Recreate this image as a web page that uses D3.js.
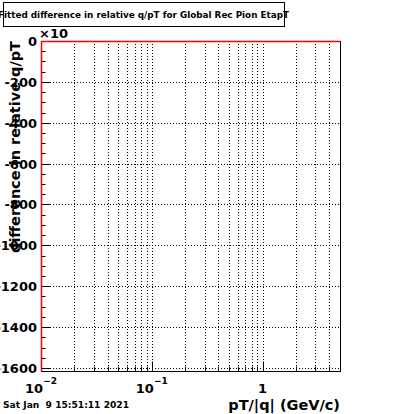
<!DOCTYPE html>
<html>
<head>
<meta charset="utf-8">
<script src="https://cdn.jsdelivr.net/npm/d3@7"></script>
<style>
  body { margin: 0; background: #fff; }
  text { font-family: "DejaVu Sans", sans-serif; font-weight: bold; white-space: pre; }
</style>
</head>
<body>
<svg id="chart" width="400" height="414"></svg>
<script>
// chart values
const titleText = "Fitted difference in relative q/pT for Global Rec Pion EtapT";
const dateText = "Sat Jan  9 15:51:11 2021";
const xTitle = "pT/|q| (GeV/c)";
const yTitle = "difference in relative q/pT";
const xDomain = [0.01, 5];
const yDomain = [-1615, 0];
const yMajor = [0, -200, -400, -600, -800, -1000, -1200, -1400, -1600];
const xMajor = [0.01, 0.1, 1];
const xMajorBase = ["10", "10", "1"];
const xMajorExp = ["\u22122", "\u22121", ""];
const binEdges = [0.01, 5];
const binValues = [0];

const svg = d3.select("#chart");
const frame = {left: 41, right: 340, top: 41, bottom: 371};

const x = d3.scaleLog().domain(xDomain).range([frame.left, frame.right]);
const y = d3.scaleLinear().domain(yDomain).range([frame.bottom, frame.top]);

// minor positions: 2..9 in every decade, plus the majors
let xMinor = [];
for (let dec = -2; dec <= 0; dec++) {
        for (let m = 2; m <= 9; m++) {
                const v = m * Math.pow(10, dec);
                if (v < xDomain[1]) xMinor.push(v);
        }
}
let yMinor = d3.range(0, yDomain[0], -50);

// grid
const grid = svg.append("g")
        .attr("stroke", "#000")
        .attr("stroke-width", 1)
        .attr("stroke-dasharray", "1,2");

grid.selectAll(".vg")
        .data(xMinor.concat(xMajor.slice(1)))
        .enter().append("line")
        .attr("x1", d => Math.round(x(d)) + 0.5)
        .attr("x2", d => Math.round(x(d)) + 0.5)
        .attr("y1", frame.top)
        .attr("y2", frame.bottom);

grid.selectAll(".hg")
        .data(yMajor.slice(1))
        .enter().append("line")
        .attr("x1", frame.left)
        .attr("x2", frame.right)
        .attr("y1", d => Math.round(y(d)) + 0.5)
        .attr("y2", d => Math.round(y(d)) + 0.5);

// frame
svg.append("rect")
        .attr("x", frame.left + 0.5)
        .attr("y", frame.top + 0.5)
        .attr("width", frame.right - frame.left)
        .attr("height", frame.bottom - frame.top)
        .attr("fill", "none")
        .attr("stroke", "#000");

// y ticks
const ticks = svg.append("g").attr("stroke", "#000");
ticks.selectAll(".ymin")
        .data(yMinor)
        .enter().append("line")
        .attr("x1", frame.left)
        .attr("x2", frame.left + 4.5)
        .attr("y1", d => Math.round(y(d)) + 0.5)
        .attr("y2", d => Math.round(y(d)) + 0.5);
ticks.selectAll(".ymaj")
        .data(yMajor)
        .enter().append("line")
        .attr("x1", frame.left)
        .attr("x2", frame.left + 9)
        .attr("y1", d => Math.round(y(d)) + 0.5)
        .attr("y2", d => Math.round(y(d)) + 0.5);

// x ticks
ticks.selectAll(".xmin")
        .data(xMinor)
        .enter().append("line")
        .attr("x1", d => Math.round(x(d)) + 0.5)
        .attr("x2", d => Math.round(x(d)) + 0.5)
        .attr("y1", frame.bottom)
        .attr("y2", frame.bottom - 4.5);
ticks.selectAll(".xmaj")
        .data(xMajor)
        .enter().append("line")
        .attr("x1", d => Math.round(x(d)) + 0.5)
        .attr("x2", d => Math.round(x(d)) + 0.5)
        .attr("y1", frame.bottom)
        .attr("y2", frame.bottom - 9.5);

// y labels
svg.selectAll(".ylab")
        .data(yMajor)
        .enter().append("text")
        .attr("x", 37)
        .attr("y", d => y(d) + 5)
        .attr("text-anchor", "end")
        .attr("font-size", "13px")
        .text(d => d < 0 ? "-" + (-d) : String(d));

svg.append("text")
        .attr("x", 39)
        .attr("y", 38)
        .attr("font-size", "13px")
        .text("\u00d710");

// x labels
const xl = svg.selectAll(".xlab")
        .data(xMajor)
        .enter().append("text")
        .attr("x", d => x(d))
        .attr("y", 393)
        .attr("text-anchor", "middle")
        .attr("font-size", "13px");
xl.append("tspan").text((d, i) => xMajorBase[i]);
xl.append("tspan")
        .attr("font-size", "9px")
        .attr("dy", -9)
        .text((d, i) => xMajorExp[i]);

// histogram line (all zero)
const histPts = [[binEdges[0], yDomain[0]]];
binValues.forEach((v, i) => {
        histPts.push([binEdges[i], v]);
        histPts.push([binEdges[i + 1], v]);
});
svg.append("path")
        .attr("d", d3.line().x(d => x(d[0])).y(d => y(d[1]))(histPts))
        .attr("transform", "translate(0.5,0.5)")
        .attr("fill", "none")
        .attr("stroke", "#ff0000")
        .attr("stroke-width", 1.5);

// titles
svg.append("text")
        .attr("x", 340)
        .attr("y", 410)
        .attr("text-anchor", "end")
        .attr("font-size", "14.5px")
        .text(xTitle);

svg.append("text")
        .attr("transform", "translate(20,41) rotate(-90)")
        .attr("text-anchor", "end")
        .attr("font-size", "14.5px")
        .text(yTitle);

// title box
svg.append("rect")
        .attr("x", 3.5)
        .attr("y", 2.5)
        .attr("width", 281)
        .attr("height", 24)
        .attr("fill", "#fff")
        .attr("stroke", "#000");

svg.append("text")
        .attr("x", -2)
        .attr("y", 18)
        .attr("font-size", "9px")
        .attr("textLength", 291)
        .attr("lengthAdjust", "spacingAndGlyphs")
        .text(titleText);

svg.append("text")
        .attr("x", 3)
        .attr("y", 408)
        .attr("font-size", "8px")
        .attr("textLength", 126)
        .attr("lengthAdjust", "spacingAndGlyphs")
        .text(dateText);
</script>
</body>
</html>
